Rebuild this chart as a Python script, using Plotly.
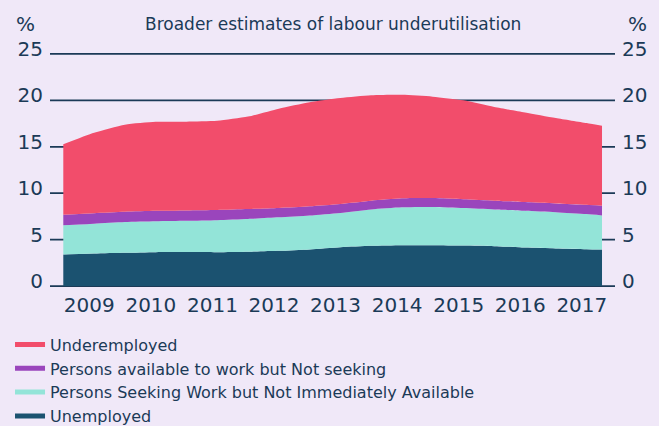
import plotly.graph_objects as go

# decimal years (half-yearly readings)
years = [2009.0, 2009.5, 2010.0, 2010.5, 2011.0, 2011.5, 2012.0, 2012.5, 2013.0,
         2013.5, 2014.0, 2014.5, 2015.0, 2015.5, 2016.0, 2016.5, 2017.0, 2017.5, 2017.75]

unemployed = [3.40, 3.50, 3.58, 3.65, 3.66, 3.65, 3.70, 3.80, 3.95, 4.18,
              4.33, 4.40, 4.40, 4.36, 4.30, 4.15, 4.05, 3.97, 3.93]
seeking_not_available = [3.14, 3.22, 3.32, 3.33, 3.37, 3.45, 3.52, 3.60, 3.65, 3.70,
                         3.92, 4.08, 4.12, 4.04, 3.95, 3.95, 3.90, 3.78, 3.68]
available_not_seeking = [1.14, 1.13, 1.10, 1.12, 1.12, 1.10, 1.08, 1.02, 1.00, 0.97,
                         0.95, 0.97, 0.96, 0.95, 0.95, 0.95, 0.95, 1.00, 1.04]
underemployed = [7.58, 8.65, 9.38, 9.59, 9.55, 9.60, 9.95, 10.68, 11.20, 11.40,
                 11.35, 11.15, 10.92, 10.65, 10.08, 9.65, 9.20, 8.80, 8.61]

tick_years = [2009, 2010, 2011, 2012, 2013, 2014, 2015, 2016, 2017]
y_ticks = [0, 5, 10, 15, 20, 25]

series = [
    ("Unemployed", unemployed, "#1b5270"),
    ("Persons Seeking Work but Not Immediately Available", seeking_not_available, "#93e4d8"),
    ("Persons available to work but Not seeking", available_not_seeking, "#9a45bc"),
    ("Underemployed", underemployed, "#f24d6b"),
]

BG = "#f0e8f8"
TXT = "#1b3a57"
FONT = "DejaVu Sans"

fig = go.Figure()
for name, vals, col in series:
    fig.add_trace(go.Scatter(
        x=years, y=vals, name=name, stackgroup="one", mode="lines",
        line=dict(width=0, color=col, shape="spline", smoothing=0.6),
        fillcolor=col, showlegend=False, hoverinfo="skip"))
# legend entries as line symbols
for name, vals, col in series:
    fig.add_trace(go.Scatter(x=[None], y=[None], name=name, mode="lines",
                             line=dict(width=5, color=col), showlegend=True))
# invisible trace on right axis
fig.add_trace(go.Scatter(x=[years[0]], y=[0], yaxis="y2", mode="markers",
                         marker=dict(opacity=0), showlegend=False, hoverinfo="skip"))

grid_shapes = [dict(type="line", xref="paper", x0=0, x1=1, yref="y", y0=v, y1=v,
                    layer="below", line=dict(color=TXT, width=1.8)) for v in y_ticks]

fig.update_layout(
    width=659, height=426,
    margin=dict(l=50, r=44, t=53, b=139, autoexpand=False),
    paper_bgcolor=BG, plot_bgcolor=BG,
    font=dict(family=FONT, color=TXT, size=16),
    showlegend=True,
    shapes=grid_shapes,
    legend=dict(xref="container", yref="container", x=0.0152, y=0.231,
                xanchor="left", yanchor="top", traceorder="reversed",
                bgcolor="rgba(0,0,0,0)", font=dict(size=16, color=TXT),
                itemwidth=30, tracegroupgap=0),
    xaxis=dict(range=[2008.784, 2017.961], tickvals=tick_years,
               ticktext=[str(y) for y in tick_years], showgrid=False,
               zeroline=False, showline=False, ticks="", tickangle=0,
               ticklabelshift=26, ticklabelstandoff=4,
               tickfont=dict(size=20, color=TXT)),
    yaxis=dict(range=[-0.1, 25.1], tickvals=y_ticks, showgrid=False,
               zeroline=False, showline=False,
               ticks="", ticklabelstandoff=6, ticklabelshift=-5,
               tickfont=dict(size=20, color=TXT)),
    yaxis2=dict(range=[-0.1, 25.1], tickvals=y_ticks, overlaying="y", side="right",
                showgrid=False, zeroline=False, showline=False, ticks="",
                ticklabelstandoff=6, ticklabelshift=-5,
                tickfont=dict(size=20, color=TXT)),
    annotations=[
        dict(text="%", xref="paper", yref="paper", x=-0.0442, y=1.126,
             xanchor="center", yanchor="middle",
             showarrow=False, font=dict(size=20, color=TXT)),
        dict(text="%", xref="paper", yref="paper", x=1.0407, y=1.126,
             xanchor="center", yanchor="middle",
             showarrow=False, font=dict(size=20, color=TXT)),
        dict(text="Broader estimates of labour underutilisation", xref="paper",
             yref="paper", x=0.5014, y=1.126, xanchor="center", yanchor="middle",
             showarrow=False, font=dict(size=17, color=TXT)),
    ],
)

fig.write_html("out.html")
